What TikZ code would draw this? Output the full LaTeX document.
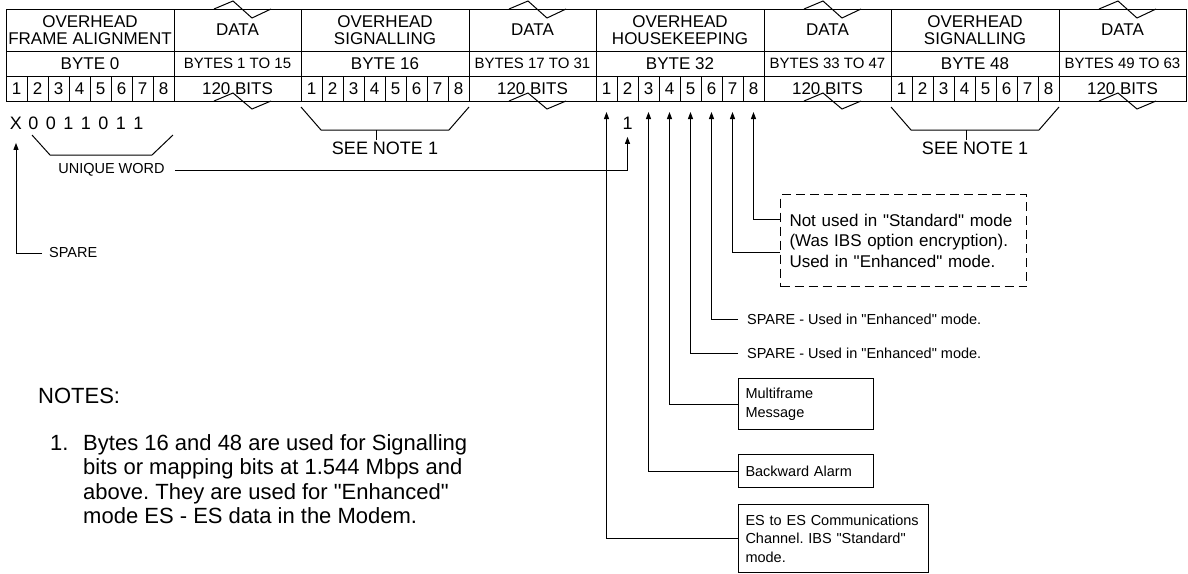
\documentclass[tikz,border=0pt]{standalone}
\usepackage{fontspec}
\setmainfont{Liberation Sans}[Ligatures=TeXOff]
\usepackage{tikz}
\usetikzlibrary{calc,arrows.meta}
\frenchspacing
\newcommand{\szTab}{\fontsize{17}{17.5}\selectfont}
\newcommand{\szBy}{\fontsize{15}{17}\selectfont}
\newcommand{\szDig}{\fontsize{18}{20}\selectfont}
\newcommand{\szLbl}{\fontsize{14.5}{18.5}\selectfont}
\newcommand{\szBox}{\fontsize{17}{20.5}\selectfont}
\newcommand{\szNote}{\fontsize{22}{24.5}\selectfont}
\tikzset{
  base/.style={draw=black, line width=1pt},
  arr/.style={base, -{Triangle[length=7pt,width=5pt]}},
  hd/.style={base, font=\szTab, align=center, inner sep=0pt, outer sep=0pt, minimum height=42pt},
  rowc/.style={base, font=\szTab, inner sep=0pt, outer sep=0pt, minimum height=25pt},
  bitc/.style={rowc, minimum width=21pt},
  digit/.style={font=\szDig, inner sep=0pt},
  lbl/.style={font=\szLbl, inner ysep=0pt},
  infobox/.style={base, font=\szLbl, align=left, inner xsep=7pt, anchor=north west},
  notebox/.style={base, dash pattern=on 9pt off 5pt, font=\szBox, align=left, inner xsep=9pt, anchor=north west},
  seenote/.style={font=\szDig, inner sep=0pt},
  note/.style={font=\szNote, inner sep=0pt, anchor=west}
}

\begin{document}
\begin{tikzpicture}[x=1pt,y=-1pt]
  \useasboundingbox (0,0) rectangle (1188,573);

  % frame table
  \foreach \hd/\bn/\dr [count=\c from 0] in {
    {OVERHEAD\\FRAME ALIGNMENT}/0/1 TO 15,
    {OVERHEAD\\SIGNALLING}/16/17 TO 31,
    {OVERHEAD\\HOUSEKEEPING}/32/33 TO 47,
    {OVERHEAD\\SIGNALLING}/48/49 TO 63}{
    \node[hd, minimum width=168pt, anchor=north west] (oh\c) at (6+295*\c,9) {\hd};
    \node[rowc, minimum width=168pt, anchor=north west] (ob\c) at (oh\c.south west) {BYTE \bn};
    \foreach \i in {1,...,8}
      \node[bitc, anchor=north west] (b\c-\i) at ($(ob\c.south west)+(21*\i-21,0)$) {\i};
    \node[hd, minimum width=127pt, anchor=north west] (dh\c) at (oh\c.north east) {DATA};
    \node[rowc, minimum width=127pt, anchor=north west, font=\szBy] (db\c) at (dh\c.south west) {BYTES \dr};
    \node[rowc, minimum width=127pt, anchor=north west] (dt\c) at (db\c.south west) {120 BITS};
    % break marks
    \draw[base] ($(dh\c.north west)+(40,0)$) -- ++(19,-8) -- ++(19,17) -- ++(19,-9);
    \draw[base] ($(dt\c.south west)+(40,0)$) -- ++(19,-8) -- ++(19,16) -- ++(19,-8);
  }

  % signalling bytes
  \foreach \c in {1,3}{
    \draw[base] ($(b\c-1.south west)+(0,6)$) -- ++(20,23) -- ++(128,0) -- ++(20,-23);
    \draw[base] ($(b\c-1.south west)+(75,29)$) -- ++(0,10);
    \node[seenote] (see\c) at ($(b\c-1.south west)+(84,47)$) {SEE NOTE 1};
  }

  % unique word
  \foreach \v [count=\i from 0] in {X,0,0,1,1,0,1,1}
    \node[digit] (uw\i) at (16+17.5*\i,123) {\v};
  \node[digit] (lastone) at (b2-2 |- uw0) {1};
  \draw[base] (32,135) -- (50,155) -- (152,155) -- (173,135);
  \node[lbl, inner xsep=10pt] (uwlbl) at (111.5,170) {UNIQUE WORD};
  \draw[arr, shorten >=7.5pt] (uwlbl.east) -| (lastone.south);

  \node[lbl, anchor=west, inner xsep=7pt] (spl) at (42,253) {SPARE};
  \draw[arr, shorten >=13.5pt] (spl.west) -| (uw0.south);

  % housekeeping bits
  \node[notebox, minimum width=246pt, minimum height=92pt, text width=228pt] (nubox) at (780,194)
    {Not used in "Standard" mode\\(Was IBS option encryption).\\Used in "Enhanced" mode.};
  \node[lbl, anchor=west, inner xsep=9pt] (sp6) at (738,319) {SPARE - Used in "Enhanced" mode.};
  \node[lbl, anchor=west, inner xsep=9pt] (sp5) at (738,353) {SPARE - Used in "Enhanced" mode.};
  \node[infobox, minimum width=135pt, minimum height=51pt, text width=121pt] (mfbox) at (738,378) {Multiframe\\Message};
  \node[infobox, minimum width=135pt, minimum height=33pt, text width=121pt] (bwbox) at (738,454) {Backward Alarm};
  \node[infobox, minimum width=190pt, minimum height=68pt, text width=176pt] (esbox) at (738,504)
    {ES to ES Communications\\Channel. IBS "Standard"\\mode.};

  \draw[arr, shorten >=11pt] (esbox.west) -| (b2-1.south);
  \draw[arr, shorten >=11pt] (bwbox.west) -| (b2-3.south);
  \draw[arr, shorten >=11pt] (mfbox.west) -| (b2-4.south);
  \draw[arr, shorten >=11pt] (sp5.west) -| (b2-5.south);
  \draw[arr, shorten >=11pt] (sp6.west) -| (b2-6.south);
  \draw[arr, shorten >=11pt] ($(nubox.north west)+(0,58)$) -| (b2-7.south);
  \draw[arr, shorten >=11pt] ($(nubox.north west)+(0,25)$) -| (b2-8.south);

  % notes
  \node[note] (notes) at (38,396) {NOTES:};
  \node[note] (note1) at (50,482) {\begin{tabular}{@{}l@{\hspace{14.7pt}}l@{}}
    1. & Bytes 16 and 48 are used for Signalling\\
       & bits or mapping bits at 1.544 Mbps and\\
       & above. They are used for "Enhanced"\\
       & mode ES - ES data in the Modem.
  \end{tabular}};
\end{tikzpicture}
\end{document}
